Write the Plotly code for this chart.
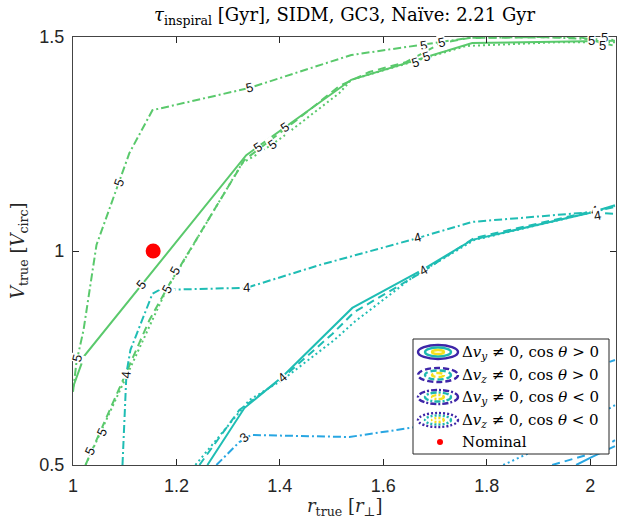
import plotly.graph_objects as go

# ---------------- data ----------------
# level 5 (green)
g5_solid_x = [1.000, 1.022, 1.335, 1.538, 1.772, 1.940, 2.048]
g5_solid_y = [0.682, 0.755, 1.224, 1.400, 1.486, 1.488, 1.491]
g5_dash_x = [1.0242, 1.1478, 1.1865, 1.3314, 1.4377, 1.5150, 1.5729, 1.6444, 1.7121, 1.7662, 1.9787, 2.0483]
g5_dash_y = [0.500, 0.8388, 0.9229, 1.2126, 1.3107, 1.3855, 1.4182, 1.4416, 1.486, 1.4977, 1.500, 1.479]
g5_dashdot_x = [1.0, 1.0068, 1.0203, 1.0454, 1.1091, 1.1536, 1.3411, 1.4763, 1.5382, 1.6696, 1.7662, 1.9014, 2.048]
g5_dashdot_y = [0.671, 0.741, 0.815, 1.014, 1.229, 1.329, 1.381, 1.435, 1.458, 1.481, 1.498, 1.500, 1.493]
g5_dot_x = [1.0242, 1.1053, 1.1536, 1.1807, 1.3275, 1.3604, 1.4048, 1.5150, 1.5382, 1.7604, 1.9401, 2.048]
g5_dot_y = [0.500, 0.715, 0.839, 0.909, 1.206, 1.229, 1.266, 1.369, 1.400, 1.479, 1.488, 1.488]
# level 4 (teal)
t4_solid_x = [1.2599, 1.3314, 1.4048, 1.5401, 1.6754, 1.7720, 1.9981, 2.048]
t4_solid_y = [0.500, 0.633, 0.706, 0.867, 0.956, 1.026, 1.089, 1.107]
t4_dash_x = [1.2444, 1.3217, 1.4048, 1.5014, 1.5440, 1.6754, 1.7758, 1.9981, 2.048]
t4_dash_y = [0.500, 0.6285, 0.7033, 0.8061, 0.8575, 0.9509, 1.0304, 1.0911, 1.0864]
t4_dashdot_x = [1.0957, 1.1034, 1.1111, 1.1536, 1.1671, 1.3353, 1.4763, 1.6657, 1.7720, 2.0039, 2.048]
t4_dashdot_y = [0.500, 0.715, 0.769, 0.900, 0.909, 0.914, 0.967, 1.030, 1.068, 1.091, 1.103]
t4_dot_x = [1.2367, 1.3121, 1.3411, 1.4048, 1.5053, 1.5440, 1.6599, 1.7758, 1.9981, 2.048]
t4_dot_y = [0.500, 0.6098, 0.6519, 0.6986, 0.7921, 0.8341, 0.9416, 1.0257, 1.0888, 1.1051]
# level 3 (blue)
b3_solid_x = [1.9729, 2.0039, 2.048]
b3_solid_y = [0.500, 0.519, 0.544]
b3_dash_x = [1.9266, 2.0116, 2.048]
b3_dash_y = [0.500, 0.530, 0.558]
b3_dashdot_x = [1.2773, 1.3217, 1.3449, 1.5343, 1.6638, 2.048]
b3_dashdot_y = [0.500, 0.5537, 0.5701, 0.5654, 0.5888, 0.7453]
b3_dot_x = [1.8319, 1.9072, 2.048]
b3_dot_y = [0.500, 0.542, 0.640]

nominal_x = [1.155]
nominal_y = [1.0]

# contour labels: x, y, text, angle
label_x = [1.0068, 1.0899, 1.3411, 1.1324, 1.1981, 1.1807, 1.0319, 1.0551, 1.3565, 1.3855, 1.4087,
           1.6773, 1.7121, 1.6618, 1.6831, 2.002, 2.027, 2.023,
           1.1034, 1.3353, 1.6657, 2.0077, 2.0135, 1.4029, 1.4049, 1.6754, 1.6774,
           1.3314]
label_y = [0.750, 1.159, 1.381, 0.9206, 0.9533, 0.9112, 0.5327, 0.5771, 1.243, 1.2477, 1.2897,
           1.4813, 1.4883, 1.4393, 1.4533, 1.493, 1.500, 1.479,
           0.7103, 0.9136, 1.0304, 1.0935, 1.0818, 0.7056, 0.7036, 0.9556, 0.9536,
           0.5631]
label_t = ["5"] * 18 + ["4"] * 9 + ["3"]
label_a = [-75, -70, -13, -51, -62, -62, -65, -65, -35, -35, -35,
           -10, -12, -17, -17, 0, 0, 0,
           -85, -2, -15, -10, -10, -40, -40, -30, -30,
           -40]

x_ticks = [1, 1.2, 1.4, 1.6, 1.8, 2]
x_tick_text = ["1", "1.2", "1.4", "1.6", "1.8", "2"]
y_ticks = [0.5, 1, 1.5]
y_tick_text = ["0.5", "1", "1.5"]

legend_text = [
    "Δ<i>v</i><sub><i>y</i></sub> ≠ 0, cos <i>θ</i> &gt; 0",
    "Δ<i>v</i><sub><i>z</i></sub> ≠ 0, cos <i>θ</i> &gt; 0",
    "Δ<i>v</i><sub><i>y</i></sub> ≠ 0, cos <i>θ</i> &lt; 0",
    "Δ<i>v</i><sub><i>z</i></sub> ≠ 0, cos <i>θ</i> &lt; 0",
    "Nominal",
]

# ---------------- styles ----------------
GREEN = "#5ac96c"
TEAL = "#1fbdb4"
BLUE = "#28a6e2"
DASH = {"solid": "solid", "dash": "8px,5px", "dashdot": "8px,3px,2px,3px", "dot": "2px,3px"}
SERIF = "DejaVu Serif"

W, H = 618, 522
L, R, T, B = 73, 2, 37, 57
PW, PH = W - L - R, H - T - B

fig = go.Figure()

series = [
    (g5_solid_x, g5_solid_y, GREEN, "solid"), (g5_dash_x, g5_dash_y, GREEN, "dash"),
    (g5_dashdot_x, g5_dashdot_y, GREEN, "dashdot"), (g5_dot_x, g5_dot_y, GREEN, "dot"),
    (t4_solid_x, t4_solid_y, TEAL, "solid"), (t4_dash_x, t4_dash_y, TEAL, "dash"),
    (t4_dashdot_x, t4_dashdot_y, TEAL, "dashdot"), (t4_dot_x, t4_dot_y, TEAL, "dot"),
    (b3_solid_x, b3_solid_y, BLUE, "solid"), (b3_dash_x, b3_dash_y, BLUE, "dash"),
    (b3_dashdot_x, b3_dashdot_y, BLUE, "dashdot"), (b3_dot_x, b3_dot_y, BLUE, "dot"),
]
for xs, ys, c, d in series:
    fig.add_trace(go.Scatter(x=xs, y=ys, mode="lines", showlegend=False, hoverinfo="skip",
                             line=dict(color=c, width=2, dash=DASH[d])))

fig.add_trace(go.Scatter(x=nominal_x, y=nominal_y, mode="markers", showlegend=False,
                         marker=dict(color="#ff0000", size=15)))

annotations = []
for x, y, t, a in zip(label_x, label_y, label_t, label_a):
    annotations.append(dict(x=x, y=y, xref="x", yref="y", text=t, showarrow=False,
                            textangle=a, font=dict(family="Liberation Sans", size=13, color="#111"),
                            bgcolor="white", borderpad=0))


def px(xp):
    return (xp - L) / PW


def py(yp):
    return (T + PH - yp) / PH


shapes = []
# legend box
shapes.append(dict(type="rect", xref="paper", yref="paper", x0=px(413), x1=px(609), y0=py(454), y1=py(339),
                   fillcolor="white", line=dict(color="#262626", width=1), layer="above"))
row_y = [352, 375, 397, 420, 442]
icon_dash = ["solid", "dash", "dashdot", "dot"]
icon_dash_px = {"solid": "solid", "dash": "6px,3px", "dashdot": "6px,2px,2px,2px", "dot": "2px,2px"}
ell = [(40, 14, "#3e26a8"), (26, 9, "#1fb8b0"), (12, 4, "#f5e11e")]
for i in range(4):
    cy = row_y[i]
    for w, h, c in ell:
        shapes.append(dict(type="circle", xref="paper", yref="paper",
                           x0=px(438 - w / 2), x1=px(438 + w / 2), y0=py(cy + h / 2), y1=py(cy - h / 2),
                           line=dict(color=c, width=2.4, dash=icon_dash_px[icon_dash[i]]), layer="above"))
shapes.append(dict(type="circle", xref="paper", yref="paper", x0=px(437), x1=px(443), y0=py(445), y1=py(439),
                   fillcolor="#ff0000", line=dict(color="#ff0000", width=0), layer="above"))
for i, t in enumerate(legend_text):
    annotations.append(dict(x=px(460), y=py(row_y[i]), xref="paper", yref="paper", text=t, showarrow=False,
                            xanchor="left", yanchor="middle",
                            font=dict(family=SERIF, size=15, color="black")))

# axis titles
annotations.append(dict(x=0.5, y=py(507), xref="paper", yref="paper", showarrow=False,
                        text="<i>r</i><sub>true</sub> [<i>r</i><sub>⊥</sub>]", xanchor="center", yanchor="middle",
                        font=dict(family=SERIF, size=18, color="#262626")))
annotations.append(dict(x=px(19), y=0.5, xref="paper", yref="paper", showarrow=False, textangle=-90,
                        text="<i>V</i><sub>true</sub> [<i>V</i><sub>circ</sub>]", xanchor="center", yanchor="middle",
                        font=dict(family=SERIF, size=18, color="#262626")))

fig.update_layout(
    width=W, height=H, margin=dict(l=L, r=R, t=T, b=B, autoexpand=False),
    plot_bgcolor="white", paper_bgcolor="white",
    title=dict(text="<i>τ</i><sub>inspiral</sub> [Gyr], SIDM, GC3, Naïve: 2.21 Gyr",
               x=0.5, xref="paper", y=1 - 15 / H, yref="container", yanchor="middle", xanchor="center",
               font=dict(family=SERIF, size=18, color="black")),
    xaxis=dict(range=[1, 2.05], tickvals=x_ticks, ticktext=x_tick_text, ticks="inside", ticklen=6,
               tickcolor="#262626", showline=True, linecolor="#444", linewidth=1.2, mirror="ticks",
               showgrid=False, zeroline=False, automargin=False, ticklabelstandoff=4,
               tickfont=dict(family="Liberation Sans", size=18, color="#262626")),
    yaxis=dict(range=[0.5, 1.5], tickvals=y_ticks, ticktext=y_tick_text, ticks="inside", ticklen=6,
               tickcolor="#262626", showline=True, linecolor="#444", linewidth=1.2, mirror="ticks",
               showgrid=False, zeroline=False, automargin=False, ticklabelstandoff=4,
               tickfont=dict(family="Liberation Sans", size=18, color="#262626")),
    shapes=shapes, annotations=annotations,
)

fig.write_html("out.html", config={"displayModeBar": False},
               post_script="document.body.style.margin='0';document.body.style.padding='0';")
